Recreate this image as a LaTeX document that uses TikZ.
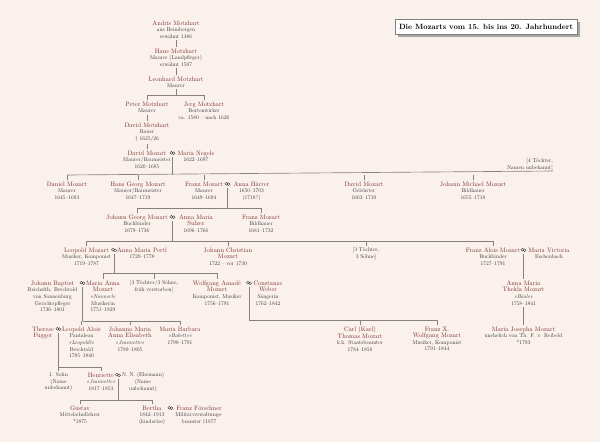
\documentclass[tikz,border=0pt]{standalone}
\usepackage{fontspec}
\setmainfont{lmroman10}[Extension=.otf, UprightFont=*-regular, BoldFont=*-bold, ItalicFont=*-italic, BoldItalicFont=*-bolditalic]
\definecolor{bg}{HTML}{FBF1EC}
\definecolor{nmc}{HTML}{7A2E2E}
\definecolor{txt}{HTML}{333333}
\definecolor{lnc}{HTML}{858080}
\newcommand\nm[1]{{\color{nmc}\fontsize{6.4}{6.6}\selectfont #1}}
\tikzset{
 p/.style={anchor=north, align=center, inner sep=0pt, text=txt, font=\fontsize{5.5}{6.6}\selectfont},
 mar/.style={inner sep=0pt, minimum width=6.4pt, minimum height=4.2pt,
   path picture={\draw[txt, line width=0.35pt]
     ([xshift=-1.15pt,yshift=0.25pt]path picture bounding box.center) circle (1.45pt)
     ([xshift=1.15pt,yshift=-0.25pt]path picture bounding box.center) circle (1.45pt);}},
 ln/.style={draw=lnc, line width=0.65pt},
 dn/.style={ln, shorten <=1.2pt},
 tk/.style={ln, shorten >=1.5pt},
 cn/.style={ln, shorten <=1.5pt, shorten >=1.5pt},
}
\begin{document}
\begin{tikzpicture}[x=1pt,y=-1pt]
\fill[bg] (0,0) rectangle (600,442);
\useasboundingbox (0,0) rectangle (600,442);
% title
\fill[gray!70] (397.5,21.5) rectangle (579.5,36.5);
\node[draw=gray, fill=white, line width=0.4pt, minimum width=182pt, minimum height=15pt, inner sep=0pt, font=\bfseries\fontsize{7.6}{8}\selectfont] (title) at (486,26.5) {Die Mozarts vom 15. bis ins 20. Jahrhundert};
% coordinates of bars
\coordinate (b0) at (0,95);
\coordinate (b1) at (0,175);
\coordinate (b2) at (0,208);
\coordinate (b3) at (0,241);
\coordinate (b4) at (0,273);
\coordinate (b5) at (0,321);
\coordinate (b6) at (0,320);
\coordinate (b7) at (0,367);
\coordinate (b8) at (0,400);
% top generations
\node[p] (andris) at (176,20.6) {\nm{Andris Motzhart}\\aus Heimbergen\\erwähnt 1486};
\node[p] (hans) at (176,48.6) {\nm{Hans Motzhart}\\Maurer (Landpfleger)\\erwähnt 1507};
\node[p] (leonhard) at (176,76.6) {\nm{Leonhard Motzhart}\\Maurer};
\node[p] (peter) at (147,101.6) {\nm{Peter Motzhart}\\Maurer};
\node[p] (jerg) at (204,101.6) {\nm{Jerg Motzhart}\\Bortenwirker\\ca. 1580 – nach 1626};
\node[p] (davidm) at (147,122.6) {\nm{David Motzhart}\\Bauer\\† 1625/26};
\node[p] (david) at (147,150.6) {\nm{David Mozart}\\Maurer/Baumeister\\1620–1685};
\node[mar] (m1) at (172.5,153) {};
\node[p] (marian) at (196,150.6) {\nm{Maria Negele}\\1622–1697};
% children of David
\node[p] (daniel) at (67,181.6) {\nm{Daniel Mozart}\\Maurer\\1645–1683};
\node[p] (hansg) at (138,181.6) {\nm{Hans Georg Mozart}\\Maurer/Baumeister\\1647–1719};
\node[p] (franz) at (204,181.6) {\nm{Franz Mozart}\\Maurer\\1649–1694};
\node[mar] (m2) at (227.5,184) {};
\node[p] (annah) at (251.5,181.6) {\nm{Anna Härrer}\\1650–1703\\(1718?)};
\node[p] (david2) at (364,181.6) {\nm{David Mozart}\\Gelehrter\\1663–1710};
\node[p] (johannm) at (473,181.6) {\nm{Johann Michael Mozart}\\Bildhauer\\1655–1718};
\node[anchor=south east, align=right, inner sep=0pt, text=txt, font=\fontsize{5.5}{6.6}\selectfont] (t4) at (553,171) {[4 Töchter,\\Namen unbekannt]};
% next generation
\node[p] (jgeorg) at (137,214.6) {\nm{Johann Georg Mozart}\\Buchbinder\\1679–1736};
\node[mar] (m3) at (172.5,217) {};
\node[p] (annas) at (196,214.6) {\nm{Anna Maria}\\\nm{Sulzer}\\1696–1766};
\node[p] (franzb) at (261,214.6) {\nm{Franz Mozart}\\Bildhauer\\1681–1732};
% Leopold generation
\node[p] (leopold) at (86.5,247.6) {\nm{Leopold Mozart}\\Musiker, Komponist\\1719–1787};
\node[mar] (m4) at (114,250) {};
\node[p] (annap) at (142,247.6) {\nm{Anna Maria Pertl}\\1720–1778};
\node[p] (jchristian) at (228,247.6) {\nm{Johann Christian}\\\nm{Mozart}\\1722 – vor 1730};
\node[p] (t3) at (366,247.6) {[3 Töchter,\\3 Söhne]};
\node[p] (franzalois) at (493,247.6) {\nm{Franz Alois Mozart}\\Buchbinder\\1727–1791};
\node[mar] (m5) at (523.5,250) {};
\node[p] (mariav) at (549,247.6) {\nm{Maria Victoria}\\Eschenbach};
% Nannerl / Wolfgang generation
\node[p] (jbaptist) at (52.5,280.6) {\nm{Johann Baptist}\\Reichsfrh. Berchtold\\von Sonnenburg\\Gerichtspfleger\\1736–1801};
\node[mar] (m6) at (82.5,283) {};
\node[p] (mariaanna) at (103,280.6) {\nm{Maria Anna}\\\nm{Mozart}\\\textit{»Nannerl«}\\Musikerin\\1751–1829};
\node[p] (geschw) at (154,280.6) {[3 Töchter/3 Söhne,\\früh verstorben]};
\node[p] (wolfgang) at (217,280.6) {\nm{Wolfgang Amadé}\\\nm{Mozart}\\Komponist, Musiker\\1756–1791};
\node[mar] (m7) at (249,283) {};
\node[p] (constanze) at (268,280.6) {\nm{Constanze}\\\nm{Weber}\\Sängerin\\1762–1842};
\node[p] (thekla) at (523.5,280.6) {\nm{Anna Maria}\\\nm{Thekla Mozart}\\\textit{»Bäsle«}\\1758–1841};
% grandchildren
\node[p] (therese) at (43,326.6) {\nm{Therese}\\\nm{Fugger}};
\node[mar] (m8) at (58.5,329) {};
\node[p] (leopolda) at (81.5,326.6) {\nm{Leopold Alois}\\Pantaleon\\\textit{»Leopoldl«}\\Berchtold\\1785–1840};
\node[p] (johanna) at (130,326.6) {\nm{Johanna Maria}\\\nm{Anna Elisabeth}\\\textit{»Jeannette«}\\1789–1805};
\node[p] (babette) at (180,326.6) {\nm{Maria Barbara}\\\textit{»Babette«}\\1790–1791};
\node[p] (carl) at (360,326.6) {\nm{Carl (Karl)}\\\nm{Thomas Mozart}\\k.k. Staatsbeamter\\1784–1858};
\node[p] (franzx) at (437,326.6) {\nm{Franz X.}\\\nm{Wolfgang Mozart}\\Musiker, Komponist\\1791–1844};
\node[p] (josepha) at (523.5,326.6) {\nm{Maria Josepha Mozart}\\unehelich von Th. F. v. Reibeld\\*1793};
% great-grandchildren
\node[p] (sohn) at (58.5,372.6) {1. Sohn\\(Name\\unbekannt)};
\node[p] (henriette) at (101,372.6) {\nm{Henriette}\\\textit{»Jeannette«}\\1817–1853};
\node[mar] (m9) at (118,375) {};
\node[p] (nn) at (143,372.6) {N. N. (Ehemann)\\(Name\\unbekannt)};
\node[p] (gustav) at (80,405.6) {\nm{Gustav}\\Mittelschullehrer\\*1875};
\node[p] (bertha) at (152,405.6) {\nm{Bertha}\\1842–1913\\(kinderlos)};
\node[mar] (m10) at (170.5,408) {};
\node[p] (franzf) at (199,405.6) {\nm{Franz Förschner}\\Militärverwaltungs-\\beamter †1877};
% ---------- connectors ----------
\draw[cn] (andris.south) -- (hans.north);
\draw[cn] (hans.south) -- (leonhard.north);
\draw[dn] (leonhard.south) -- (leonhard |- b0);
\draw[ln] (peter |- b0) -- (jerg |- b0);
\draw[tk] (peter |- b0) -- (peter.north);
\draw[tk] (jerg |- b0) -- (jerg.north);
\draw[cn] (peter.south) -- (davidm.north);
\draw[cn] (davidm.south) -- (david.north);
% David + Maria
\draw[dn] (m1.south) -- (m1 |- b1);
\draw[ln] (daniel |- b1) -- (t4.south east);
\foreach \c in {daniel,hansg,franz,david2,johannm} \draw[tk] (\c |- b1) -- (\c.north);
% Franz + Anna
\draw[dn] (m2.south) -- (m2 |- b2);
\draw[ln] (jgeorg |- b2) -- (franzb |- b2);
\draw[tk] (jgeorg |- b2) -- (jgeorg.north);
\draw[tk] (franzb |- b2) -- (franzb.north);
% Johann Georg + Anna Maria
\draw[dn] (m3.south) -- (m3 |- b3);
\draw[ln] (leopold |- b3) -- (franzalois |- b3);
\foreach \c in {leopold,jchristian,t3,franzalois} \draw[tk] (\c |- b3) -- (\c.north);
% Leopold + Anna Maria
\draw[dn] (m4.south) -- (m4 |- b4);
\draw[ln] (mariaanna |- b4) -- (wolfgang |- b4);
\foreach \c in {mariaanna,geschw,wolfgang} \draw[tk] (\c |- b4) -- (\c.north);
% Franz Alois + Maria Victoria
\draw[cn] (m5.south) -- (thekla.north);
\draw[cn] (thekla.south) -- (josepha.north);
% Johann Baptist + Maria Anna
\draw[dn] (m6.south) -- (m6 |- b5);
\draw[ln] (m6 |- b5) -- (babette |- b5);
\foreach \c in {leopolda,johanna,babette} \draw[tk] (\c |- b5) -- (\c.north);
% Wolfgang + Constanze
\draw[dn] (m7.south) -- (m7 |- b6);
\draw[ln] (m7 |- b6) -- (franzx |- b6);
\foreach \c in {carl,franzx} \draw[tk] (\c |- b6) -- (\c.north);
% Therese + Leopold Alois
\draw[dn] (m8.south) -- (m8 |- b7);
\draw[ln] (m8 |- b7) -- (henriette |- b7);
\foreach \c in {sohn,henriette} \draw[tk] (\c |- b7) -- (\c.north);
% Henriette + N.N.
\draw[dn] (m9.south) -- (m9 |- b8);
\draw[ln] (gustav |- b8) -- (bertha |- b8);
\foreach \c in {gustav,bertha} \draw[tk] (\c |- b8) -- (\c.north);
\end{tikzpicture}
\end{document}
